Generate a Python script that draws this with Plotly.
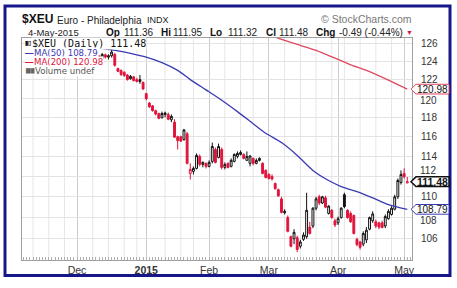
import numpy as np
import pandas as pd
import plotly.graph_objects as go

# ---------------- data ----------------
dates = [
    "2014-12-10", "2014-12-11", "2014-12-12", "2014-12-15", "2014-12-16", "2014-12-17",
    "2014-12-18", "2014-12-19", "2014-12-22", "2014-12-23", "2014-12-24", "2014-12-26",
    "2014-12-29", "2014-12-30", "2014-12-31",
    "2015-01-02", "2015-01-05", "2015-01-06", "2015-01-07", "2015-01-08", "2015-01-09",
    "2015-01-12", "2015-01-13", "2015-01-14", "2015-01-15", "2015-01-16", "2015-01-20",
    "2015-01-21", "2015-01-22", "2015-01-23", "2015-01-26", "2015-01-27", "2015-01-28",
    "2015-01-29", "2015-01-30",
    "2015-02-02", "2015-02-03", "2015-02-04", "2015-02-05", "2015-02-06", "2015-02-09",
    "2015-02-10", "2015-02-11", "2015-02-12", "2015-02-13", "2015-02-17", "2015-02-18",
    "2015-02-19", "2015-02-20", "2015-02-23", "2015-02-24", "2015-02-25", "2015-02-26",
    "2015-02-27",
    "2015-03-02", "2015-03-03", "2015-03-04", "2015-03-05", "2015-03-06", "2015-03-09",
    "2015-03-10", "2015-03-11", "2015-03-12", "2015-03-13", "2015-03-16", "2015-03-17",
    "2015-03-18", "2015-03-19", "2015-03-20", "2015-03-23", "2015-03-24", "2015-03-25",
    "2015-03-26", "2015-03-27", "2015-03-30", "2015-03-31",
    "2015-04-01", "2015-04-02", "2015-04-06", "2015-04-07", "2015-04-08", "2015-04-09",
    "2015-04-10", "2015-04-13", "2015-04-14", "2015-04-15", "2015-04-16", "2015-04-17",
    "2015-04-20", "2015-04-21", "2015-04-22", "2015-04-23", "2015-04-24", "2015-04-27",
    "2015-04-28", "2015-04-29", "2015-04-30", "2015-05-01", "2015-05-04",
]
opens = [
    124.55, 124.30, 124.70, 124.45, 124.60, 124.75, 123.20, 123.00, 122.80, 122.50, 122.10, 122.30,
    122.00, 121.80, 121.70,
    120.50, 119.50, 119.20, 118.70, 118.40, 117.95, 118.30, 118.30, 117.75, 117.50, 116.00, 116.00,
    115.70, 116.30, 112.30, 112.50, 112.80, 114.00, 113.20, 113.30,
    113.00, 113.50, 114.70, 113.90, 114.70, 112.90, 113.30, 113.00, 113.50, 114.00, 114.20, 114.20,
    113.60, 113.30, 113.80, 113.30, 113.60, 113.30, 112.60,
    112.20, 112.00, 111.30, 110.70, 109.80, 108.45, 108.00, 106.20, 106.00, 106.10, 105.30, 105.95,
    106.20, 107.10, 107.20, 108.90, 110.00, 109.40, 109.90, 108.40, 108.70, 107.70,
    107.50, 108.00, 110.20, 108.70, 108.40, 108.20, 105.95, 105.70, 105.50, 105.90, 106.90, 107.70,
    107.60, 107.50, 107.50, 107.20, 107.90, 108.30, 108.80, 110.00, 111.40, 112.30, 111.36,
]
highs = [
    124.70, 124.90, 124.85, 124.75, 125.60, 124.90, 123.30, 123.10, 122.90, 122.60, 122.50, 122.40,
    122.20, 122.50, 121.80,
    120.60, 119.60, 119.30, 118.80, 118.50, 118.60, 118.60, 118.50, 118.30, 117.80, 116.10, 116.10,
    116.80, 116.50, 113.30, 113.00, 114.30, 114.20, 113.50, 113.40,
    113.60, 115.40, 114.90, 115.30, 114.90, 113.40, 113.40, 113.80, 114.30, 114.50, 114.60, 114.30,
    114.50, 114.10, 113.90, 113.80, 113.90, 113.40, 112.70,
    112.30, 112.20, 111.40, 110.80, 110.00, 108.80, 108.20, 106.30, 106.90, 106.30, 105.90, 106.60,
    110.40, 107.60, 109.00, 110.00, 110.20, 110.10, 110.10, 109.20, 108.80, 107.90,
    108.10, 109.00, 110.40, 108.80, 108.60, 108.30, 106.10, 105.80, 106.70, 107.10, 108.10, 108.60,
    107.80, 107.60, 107.70, 108.30, 108.80, 109.10, 110.20, 111.80, 112.60, 112.80, 111.95,
]
lows = [
    124.15, 124.20, 124.30, 124.20, 124.40, 123.40, 122.80, 122.40, 122.30, 121.90, 122.00, 121.80,
    121.70, 121.55, 120.90,
    119.80, 119.00, 118.60, 118.20, 117.80, 117.90, 118.00, 117.70, 117.50, 115.90, 114.70, 115.45,
    115.60, 113.20, 111.70, 112.20, 112.70, 113.00, 112.90, 112.80,
    112.90, 113.30, 113.30, 113.80, 112.70, 112.70, 112.80, 112.90, 113.40, 113.80, 114.10, 113.70,
    113.60, 113.00, 113.10, 113.20, 113.50, 112.20, 111.80,
    111.70, 111.60, 110.70, 110.00, 108.40, 108.30, 106.60, 105.20, 105.50, 104.75, 105.10, 105.80,
    106.00, 106.40, 107.00, 108.70, 109.20, 109.30, 108.90, 108.30, 107.90, 107.10,
    107.30, 107.90, 108.90, 107.90, 107.50, 106.40, 105.30, 105.00, 105.30, 105.60, 106.80, 107.50,
    107.00, 106.90, 107.00, 107.00, 107.80, 108.20, 108.70, 109.80, 111.20, 111.80, 111.32,
]
closes = [
    124.30, 124.75, 124.45, 124.60, 125.00, 123.55, 122.90, 122.55, 122.45, 122.00, 122.35, 121.90,
    121.80, 122.00, 121.00,
    119.95, 119.10, 118.70, 118.35, 117.90, 118.40, 118.45, 117.80, 118.10, 115.95, 115.60, 115.55,
    116.70, 113.30, 112.70, 112.80, 114.10, 113.20, 113.40, 113.00,
    113.40, 115.00, 113.40, 115.00, 112.90, 113.20, 112.90, 113.60, 114.20, 114.30, 114.40, 113.80,
    114.00, 114.05, 113.30, 113.60, 113.80, 112.30, 111.90,
    111.80, 111.75, 110.80, 110.10, 108.50, 108.60, 106.70, 105.30, 106.60, 105.00, 105.70, 106.35,
    108.70, 106.50, 108.90, 109.80, 109.40, 110.00, 109.00, 109.10, 108.00, 107.30,
    107.90, 108.90, 109.05, 108.00, 107.60, 106.50, 105.45, 105.20, 106.50, 106.80, 108.00, 108.35,
    107.20, 107.10, 107.05, 108.10, 108.60, 108.90, 110.00, 111.60, 112.20, 111.97, 111.48,
]

ma50_dates = ["2014-12-10", "2014-12-18", "2014-12-24", "2015-01-02", "2015-01-09", "2015-01-16",
              "2015-01-23", "2015-01-30", "2015-02-06", "2015-02-13", "2015-02-20", "2015-02-27",
              "2015-03-06", "2015-03-13", "2015-03-20", "2015-03-27", "2015-04-02", "2015-04-10",
              "2015-04-17", "2015-04-24", "2015-05-04"]
ma50_vals = [125.45, 125.15, 124.87, 124.45, 123.85, 123.00,
             122.00, 120.90, 119.80, 118.60, 117.60, 116.35,
             115.40, 114.10, 112.60, 111.60, 111.00, 110.50,
             109.90, 109.25, 108.79]

ma200_dates = ["2015-03-02", "2015-03-09", "2015-03-16", "2015-03-23", "2015-04-01", "2015-04-08",
               "2015-04-15", "2015-04-24", "2015-05-04"]
ma200_vals = [126.90, 126.30, 125.75, 125.20, 124.20, 123.60, 123.00, 121.95, 120.98]

month_dates = ["2014-12-01", "2015-01-02", "2015-02-02", "2015-03-02", "2015-04-01", "2015-05-01"]
month_labels = ["Dec", "<b>2015</b>", "Feb", "Mar", "Apr", "May"]
y_ticks = [106, 108, 110, 112, 114, 116, 118, 120, 122, 124, 126]
# tick labels that the value tags push aside (value -> pixel nudge)
y_label_nudge = {120: 2, 112: -6, 108: 3}

last_close, last_ma50, last_ma200 = 111.48, 108.79, 120.98

# ---------------- trading calendar -> x positions ----------------
holidays = {"2014-11-27", "2014-12-25", "2015-01-01", "2015-01-19", "2015-02-16", "2015-04-03"}
cal = [d for d in pd.bdate_range("2014-11-03", "2015-05-08")]
cal = [d for d in cal if d.strftime("%Y-%m-%d") not in holidays]
cal_s = [d.strftime("%Y-%m-%d") for d in cal]
origin = cal_s.index("2014-12-01")
pos = {d: i - origin for i, d in enumerate(cal_s)}
X_RANGE = [-17.5, 106.5]

# ---------------- geometry helpers (pixels -> paper) ----------------
W, H = 457, 288
PL, PR, PT, PB = 22, 412, 38, 267


def px(x):
    return (x - PL) / (PR - PL)


def py(y):
    return (PB - y) / (PB - PT)


Y_LO, Y_HI = 104.03, 126.57
lg = np.log10


def vy(v):
    return (lg(v) - lg(Y_LO)) / (lg(Y_HI) - lg(Y_LO))


RED = "#e0143c"
BLACK = "#111111"
BLUE = "#3a3ab4"
MARED = "#e04860"
NAVY = "#16168a"

fig = go.Figure()

# ---------------- candles (StockCharts colouring) ----------------
x = np.array([pos[d] for d in dates])
o, h, l, c = map(np.array, (opens, highs, lows, closes))
prev = np.concatenate([[o[0]], c[:-1]])
down = c < prev
for mask, col in [(~down, BLACK), (down, RED)]:
    fig.add_trace(go.Candlestick(
        x=x[mask], open=o[mask], high=h[mask], low=l[mask], close=c[mask],
        increasing=dict(line=dict(color=col, width=1), fillcolor="white"),
        decreasing=dict(line=dict(color=col, width=1), fillcolor=col),
        whiskerwidth=0, showlegend=False, hoverinfo="skip"))

fig.add_trace(go.Scatter(x=[pos[d] for d in ma50_dates], y=ma50_vals, mode="lines",
                         line=dict(color=BLUE, width=1.3, shape="spline", smoothing=0.6),
                         showlegend=False, hoverinfo="skip"))
fig.add_trace(go.Scatter(x=[pos[d] for d in ma200_dates], y=ma200_vals, mode="lines",
                         line=dict(color=MARED, width=1.3, shape="spline", smoothing=0.6),
                         showlegend=False, hoverinfo="skip"))

# ---------------- weekly grid lines ----------------
month_pos = [pos[d] for d in month_dates]
shapes = []
for d, i in pos.items():
    dt = pd.Timestamp(d)
    is_week_start = dt.weekday() == 0 or (dt.weekday() == 1 and d in ("2015-01-20", "2015-02-17"))
    if is_week_start and X_RANGE[0] < i < X_RANGE[1] and min(abs(i - m) for m in month_pos) > 1:
        shapes.append(dict(type="line", xref="x", yref="paper", x0=i, x1=i, y0=0, y1=1,
                           line=dict(color="#e6e6e6", width=1), layer="below"))

# outer navy frame
shapes.append(dict(type="rect", xref="paper", yref="paper", x0=px(5), x1=px(450), y0=py(283), y1=py(5),
                   line=dict(color=NAVY, width=3), fillcolor="rgba(0,0,0,0)", layer="above"))


# value tags on the right axis
def tag(v, col, txt, bold=False, lw=1):
    yc = vy(v)
    dy = 5 / (PB - PT)
    xt, xn, xe = px(411), px(416), px(449)
    shapes.append(dict(type="path", xref="paper", yref="paper",
                       path=f"M {xt},{yc} L {xn},{yc + dy} L {xe},{yc + dy} L {xe},{yc - dy} L {xn},{yc - dy} Z",
                       line=dict(color=col, width=lw), fillcolor="white", layer="above"))
    return dict(xref="paper", yref="paper", x=px(432.5), y=yc, xanchor="center", yanchor="middle",
                text=f"<b>{txt}</b>" if bold else txt, showarrow=False,
                font=dict(family="Liberation Sans", size=10.5 if bold else 10, color="#111"))


def txt(xp, yp, s, size=10, color="#222", family="Liberation Sans", anchor="left", bg=None):
    a = dict(xref="paper", yref="paper", x=px(xp), y=py(yp), xanchor=anchor, yanchor="middle",
             text=s, showarrow=False, font=dict(family=family, size=size, color=color), borderpad=0)
    if bg:
        a["bgcolor"] = bg
    return a


annotations = []
# nudged y tick labels (the rest come from the axis itself)
for v, dpx in y_label_nudge.items():
    annotations.append(dict(xref="paper", yref="paper", x=px(418), y=vy(v) - dpx / (PB - PT),
                            xanchor="left", yanchor="middle", text=str(v), showarrow=False,
                            font=dict(family="Liberation Sans", size=10, color="#333")))

annotations += [
    tag(last_ma200, MARED, f"{last_ma200:.2f}"),
    tag(last_close, BLACK, f"{last_close:.2f}", bold=True, lw=1.5),
    tag(last_ma50, BLUE, f"{last_ma50:.2f}"),
]

# header
annotations += [
    txt(21, 18.5, "<b>$XEU</b>", size=12, color="#111"),
    txt(56, 19.5, "Euro - Philadelphia", size=10, color="#222"),
    txt(146, 19.5, "INDX", size=9, color="#222"),
    txt(413, 18.5, "© StockCharts.com", size=10.5, color="#777", anchor="right"),
    txt(27, 32.5, "4-May-2015", size=9.5, color="#222"),
]
stats = [("Op", 105, "111.36", 123), ("Hi", 160, "111.95", 172), ("Lo", 209, "111.32", 227),
         ("Cl", 265, "111.48", 278), ("Chg", 315, "-0.49 (-0.44%)", 338)]
for lab, xl, val, xv in stats:
    annotations.append(txt(xl, 32, f"<b>{lab}</b>", size=10, color="#111"))
    annotations.append(txt(xv, 32, val, size=10, color="#222"))
annotations.append(txt(405, 32, "▼", size=7, color=RED))

# legend inside plot (top-left)
annotations += [
    txt(23.5, 43.5, "<b>▮▯</b>", size=6, color="#111", bg="white"),
    txt(31, 43.5, f"$XEU (Daily) {last_close:.2f}", size=10, color="#111",
        family="DejaVu Sans Mono", bg="white"),
    txt(24, 53, "<b>—</b>", size=9, color=BLUE, bg="white"),
    txt(33, 53, f"MA(50) {last_ma50:.2f}", size=8.6, color=BLUE, family="DejaVu Sans", bg="white"),
    txt(24, 62.5, "<b>—</b>", size=9, color=RED, bg="white"),
    txt(33, 62.5, f"MA(200) {last_ma200:.2f}", size=8.6, color=RED, family="DejaVu Sans", bg="white"),
    txt(24, 72, "▆▆", size=6, color="#666", bg="white"),
    txt(34, 72, "Volume undef", size=8.6, color="#555", family="DejaVu Sans", bg="white"),
]

day_positions = [i for i in pos.values() if X_RANGE[0] < i < X_RANGE[1]]

fig.update_layout(
    width=W, height=H,
    margin=dict(l=PL, r=W - PR, t=PT, b=H - PB, pad=0),
    paper_bgcolor="white", plot_bgcolor="white", showlegend=False,
    boxgap=0.15,
    shapes=shapes, annotations=annotations,
    xaxis=dict(range=X_RANGE, tickmode="array", tickvals=month_pos, ticktext=month_labels,
               ticks="", showgrid=True, gridcolor="#cccccc", gridwidth=1, zeroline=False,
               showline=True, linecolor="#a0a0a0", mirror=True, fixedrange=True,
               tickfont=dict(family="Liberation Sans", size=10.5, color="#333"),
               rangeslider=dict(visible=False),
               minor=dict(tickmode="array", tickvals=day_positions, ticks="inside", ticklen=3,
                          tickcolor="#b0b0b0", showgrid=False)),
    yaxis=dict(type="log", range=[lg(Y_LO), lg(Y_HI)], side="right", tickmode="array",
               tickvals=y_ticks,
               ticktext=["" if t in y_label_nudge else str(t) for t in y_ticks],
               showgrid=True,
               gridcolor="#e3e3e3", zeroline=False, showline=True, linecolor="#a0a0a0",
               mirror=True, ticks="", ticklabelstandoff=6, fixedrange=True,
               tickfont=dict(family="Liberation Sans", size=10, color="#333")),
)

fig.write_html("out.html")
